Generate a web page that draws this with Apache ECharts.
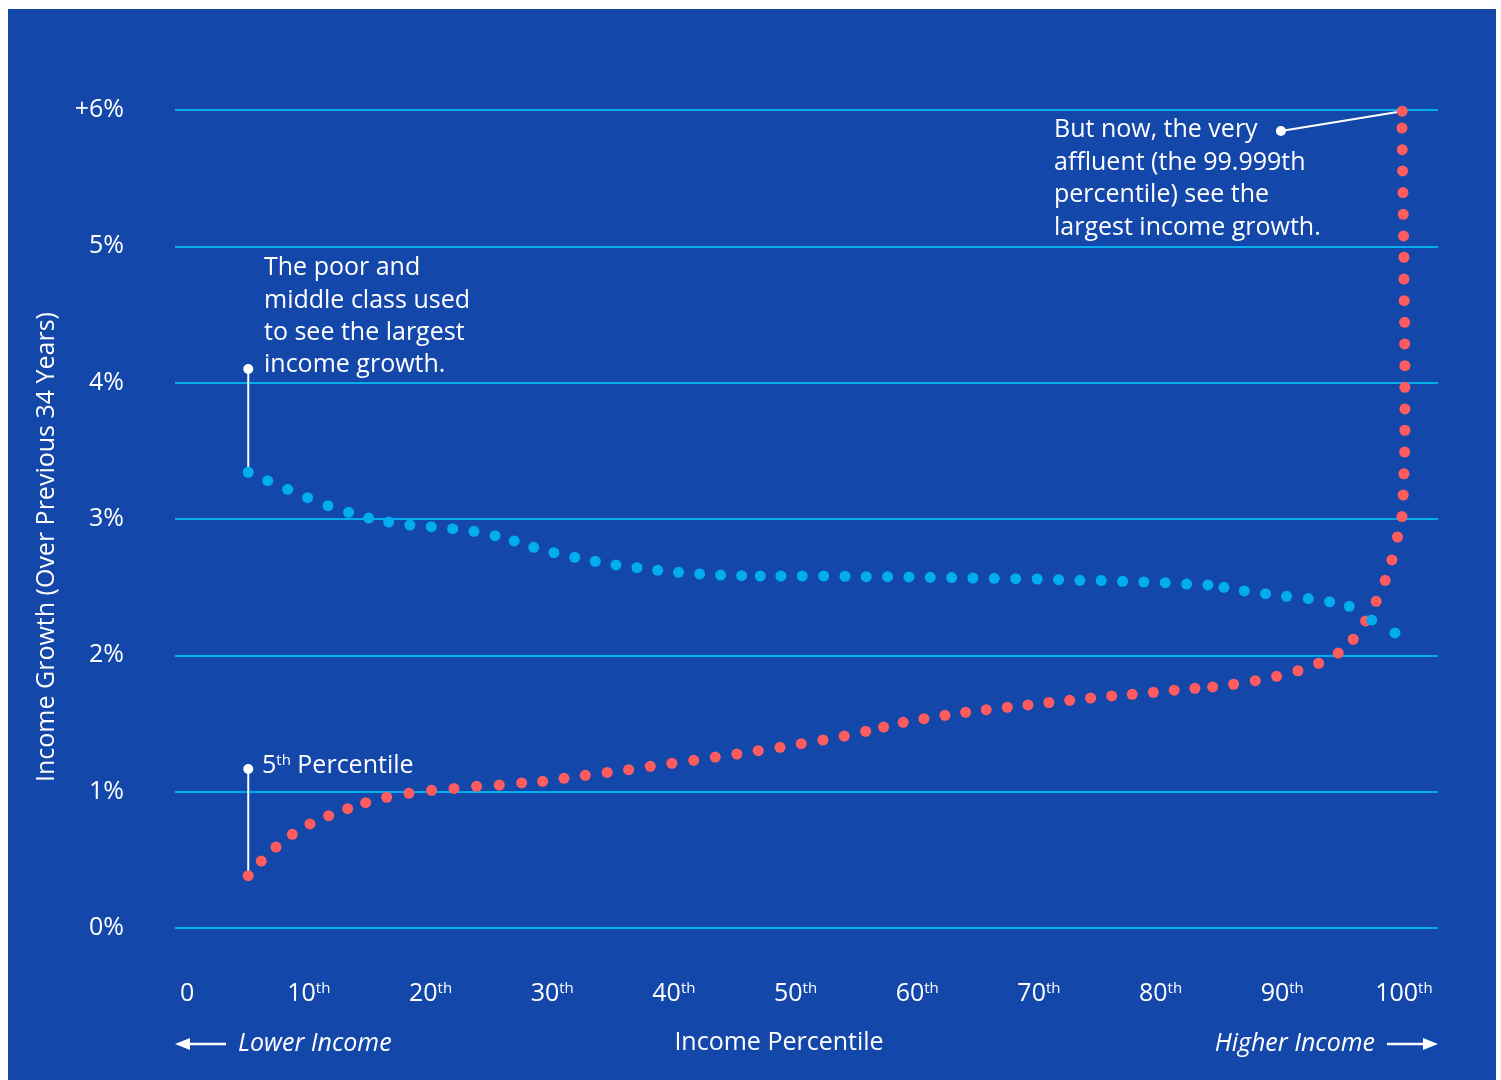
<!DOCTYPE html>
<html>
<head>
<meta charset="utf-8">
<script src="https://cdn.jsdelivr.net/npm/echarts@6/dist/echarts.min.js"></script>
<style>
  html, body { margin: 0; padding: 0; background: #ffffff; }
  #chart { position: absolute; left: 8px; top: 9px; width: 1488px; height: 1071px; }
</style>
</head>
<body>
<div id="chart"></div>
<script>
// ---- data (percentile, income growth %) ----
const xTicks = [0, 10, 20, 30, 40, 50, 60, 70, 80, 90, 100];
const yTicks = [0, 1, 2, 3, 4, 5, 6];

// previous era – blue
const earlierGrowth = [
  [5.02, 3.343], [6.62, 3.281], [8.26, 3.218], [9.90, 3.156], [11.57, 3.098],
  [13.27, 3.049], [14.92, 3.007], [16.56, 2.978], [18.31, 2.956], [20.06, 2.944],
  [21.82, 2.929], [23.57, 2.910], [25.30, 2.878], [26.88, 2.839], [28.48, 2.792],
  [30.14, 2.753], [31.85, 2.719], [33.54, 2.690], [35.24, 2.663], [36.97, 2.643],
  [38.67, 2.624], [40.39, 2.609], [42.12, 2.597], [43.84, 2.589], [45.57, 2.584],
  [47.10, 2.582], [48.80, 2.582], [50.55, 2.582], [52.31, 2.582], [54.06, 2.580],
  [55.81, 2.577], [57.57, 2.577], [59.32, 2.575], [61.07, 2.572], [62.83, 2.570],
  [64.58, 2.567], [66.33, 2.565], [68.09, 2.562], [69.86, 2.560], [71.62, 2.555],
  [73.37, 2.550], [75.12, 2.548], [76.88, 2.543], [78.63, 2.538], [80.38, 2.533],
  [82.14, 2.523], [83.89, 2.516], [85.21, 2.499], [86.88, 2.472], [88.63, 2.452],
  [90.36, 2.433], [92.14, 2.416], [93.89, 2.393], [95.51, 2.360], [97.35, 2.259],
  [99.26, 2.164]
];

// recent era – red
const recentGrowth = [
  [5.02, 0.384], [6.09, 0.491], [7.30, 0.594], [8.64, 0.687], [10.09, 0.763],
  [11.63, 0.824], [13.19, 0.875], [14.67, 0.919], [16.40, 0.959], [18.23, 0.988],
  [20.09, 1.010], [21.93, 1.024], [23.79, 1.039], [25.65, 1.049], [27.49, 1.064],
  [29.22, 1.076], [30.97, 1.098], [32.72, 1.120], [34.52, 1.141], [36.28, 1.161],
  [38.06, 1.186], [39.84, 1.208], [41.63, 1.230], [43.40, 1.254], [45.18, 1.276],
  [46.93, 1.301], [48.72, 1.325], [50.47, 1.352], [52.25, 1.379], [54.00, 1.408],
  [55.76, 1.443], [57.24, 1.474], [58.85, 1.509], [60.55, 1.535], [62.28, 1.560],
  [63.98, 1.582], [65.67, 1.601], [67.40, 1.619], [69.10, 1.636], [70.82, 1.654],
  [72.53, 1.670], [74.25, 1.687], [75.98, 1.702], [77.67, 1.714], [79.40, 1.729],
  [81.12, 1.744], [82.82, 1.758], [84.28, 1.768], [86.00, 1.788], [87.78, 1.814],
  [89.54, 1.846], [91.29, 1.887], [92.99, 1.942], [94.60, 2.017], [95.83, 2.118],
  [96.85, 2.252], [97.72, 2.396], [98.46, 2.550], [99.01, 2.700], [99.47, 2.868],
  [99.84, 3.018], [99.94, 3.176], [100.00, 3.332], [100.06, 3.491], [100.08, 3.651],
  [100.08, 3.807], [100.08, 3.966], [100.08, 4.125], [100.06, 4.284], [100.06, 4.443],
  [100.02, 4.601], [100.00, 4.760], [100.00, 4.920], [99.97, 5.076], [99.94, 5.235],
  [99.92, 5.394], [99.89, 5.553], [99.86, 5.709], [99.84, 5.868], [99.86, 5.991]
];

// annotation leader lines (data coordinates)
const poorLeader = [[5.02, 3.343], [5.02, 4.10]];
const fifthLeader = [[5.02, 0.384], [5.02, 1.166]];
const affluentLeader = [[99.86, 5.991], [89.89, 5.846]];

const poorText = ['The poor and', 'middle class used', 'to see the largest', 'income growth.'];
const affluentText = ['But now, the very', 'affluent (the 99.999th', 'percentile) see the', 'largest income growth.'];

// ---- chart ----
const FONT = '"Open Sans"';
const FS = 25;
const WHITE = '#ffffff';
const BG = '#1447AA';
const CYAN = '#00AEEF';
const RED = '#FF5C5F';
const OX = 8, OY = 9; // div offset

function leaderSeries(pts) {
  return {
    type: 'line',
    data: [
      { value: pts[0], symbol: 'none' },
      { value: pts[1], symbol: 'circle', symbolSize: 10 }
    ],
    lineStyle: { color: WHITE, width: 2 },
    itemStyle: { color: WHITE },
    silent: true,
    z: 1,
    animation: false
  };
}

const chart = echarts.init(document.getElementById('chart'));
chart.setOption({
  backgroundColor: BG,
  animation: false,
  textStyle: { fontFamily: FONT },
  grid: { left: 167, right: 58, top: 101, bottom: 152, containLabel: false },
  xAxis: {
    type: 'value',
    min: -1,
    max: 102.8,
    axisLine: { show: false },
    axisTick: { show: false },
    splitLine: { show: false },
    axisLabel: {
      customValues: xTicks,
      margin: 53,
      color: WHITE,
      fontFamily: FONT,
      fontSize: FS,
      formatter: function (v) {
        return v === 0 ? '{n|0}' : '{n|' + v + '}{s|th}';
      },
      rich: {
        n: { fontSize: FS, color: WHITE, fontFamily: FONT, lineHeight: 26 },
        s: { fontSize: 15, color: WHITE, fontFamily: FONT, verticalAlign: 'top', lineHeight: 16 }
      }
    },
    name: 'Income Percentile',
    nameLocation: 'middle',
    nameGap: 102,
    nameTextStyle: { color: WHITE, fontFamily: FONT, fontSize: FS, padding: [0, 55, 0, 0] }
  },
  yAxis: {
    type: 'value',
    min: 0,
    max: 6,
    interval: 1,
    axisLine: { show: false },
    axisTick: { show: false },
    splitLine: { lineStyle: { color: CYAN, width: 2 } },
    axisLabel: {
      color: WHITE,
      fontFamily: FONT,
      fontSize: FS,
      margin: 51,
      align: 'right',
      padding: [4, 0, 0, 0],
      formatter: function (v) { return v === 6 ? '+6%' : v + '%'; }
    },
    name: 'Income Growth (Over Previous 34 Years)',
    nameLocation: 'middle',
    nameRotate: 90,
    nameGap: 116,
    nameTextStyle: { color: WHITE, fontFamily: FONT, fontSize: FS, padding: [0, 56, 0, 0] }
  },
  series: [
    leaderSeries(poorLeader),
    leaderSeries(fifthLeader),
    leaderSeries(affluentLeader),
    {
      name: 'Recent',
      type: 'scatter',
      data: recentGrowth,
      symbolSize: 11,
      itemStyle: { color: RED, opacity: 1 },
      z: 3
    },
    {
      name: 'Earlier',
      type: 'scatter',
      data: earlierGrowth,
      symbolSize: 11,
      itemStyle: { color: CYAN, opacity: 1 },
      z: 4
    }
  ],
  graphic: [
    {
      type: 'text', left: 264 - OX, top: 252 - OY,
      style: { text: poorText.join('\n'), fill: WHITE, font: FS + 'px ' + FONT, lineHeight: 32.3 }
    },
    {
      type: 'text', left: 1054 - OX, top: 114 - OY,
      style: { text: affluentText.join('\n'), fill: WHITE, font: FS + 'px ' + FONT, lineHeight: 32.5 }
    },
    {
      type: 'text', left: 262 - OX, top: 753 - OY,
      style: {
        text: '{n|5}{s|th}{n| Percentile}', fill: WHITE,
        rich: {
          n: { fontSize: FS, fontFamily: FONT, fill: WHITE, lineHeight: 26 },
          s: { fontSize: 15, fontFamily: FONT, fill: WHITE, verticalAlign: 'top', lineHeight: 16 }
        }
      }
    },
    {
      type: 'text', left: 238 - OX, top: 1031 - OY,
      style: { text: 'Lower Income', fill: WHITE, font: 'italic ' + FS + 'px ' + FONT }
    },
    {
      type: 'text', right: 1496 - 1375, top: 1031 - OY,
      style: { text: 'Higher Income', fill: WHITE, font: 'italic ' + FS + 'px ' + FONT }
    },
    {
      type: 'line', shape: { x1: 186 - OX, y1: 1044 - OY, x2: 226 - OX, y2: 1044 - OY },
      style: { stroke: WHITE, lineWidth: 2.5 }
    },
    {
      type: 'polygon', shape: { points: [[175 - OX, 1044 - OY], [190 - OX, 1038 - OY], [190 - OX, 1050 - OY]] },
      style: { fill: WHITE }
    },
    {
      type: 'line', shape: { x1: 1387 - OX, y1: 1044 - OY, x2: 1427 - OX, y2: 1044 - OY },
      style: { stroke: WHITE, lineWidth: 2.5 }
    },
    {
      type: 'polygon', shape: { points: [[1438 - OX, 1044 - OY], [1423 - OX, 1038 - OY], [1423 - OX, 1050 - OY]] },
      style: { fill: WHITE }
    }
  ]
});
</script>
</body>
</html>
